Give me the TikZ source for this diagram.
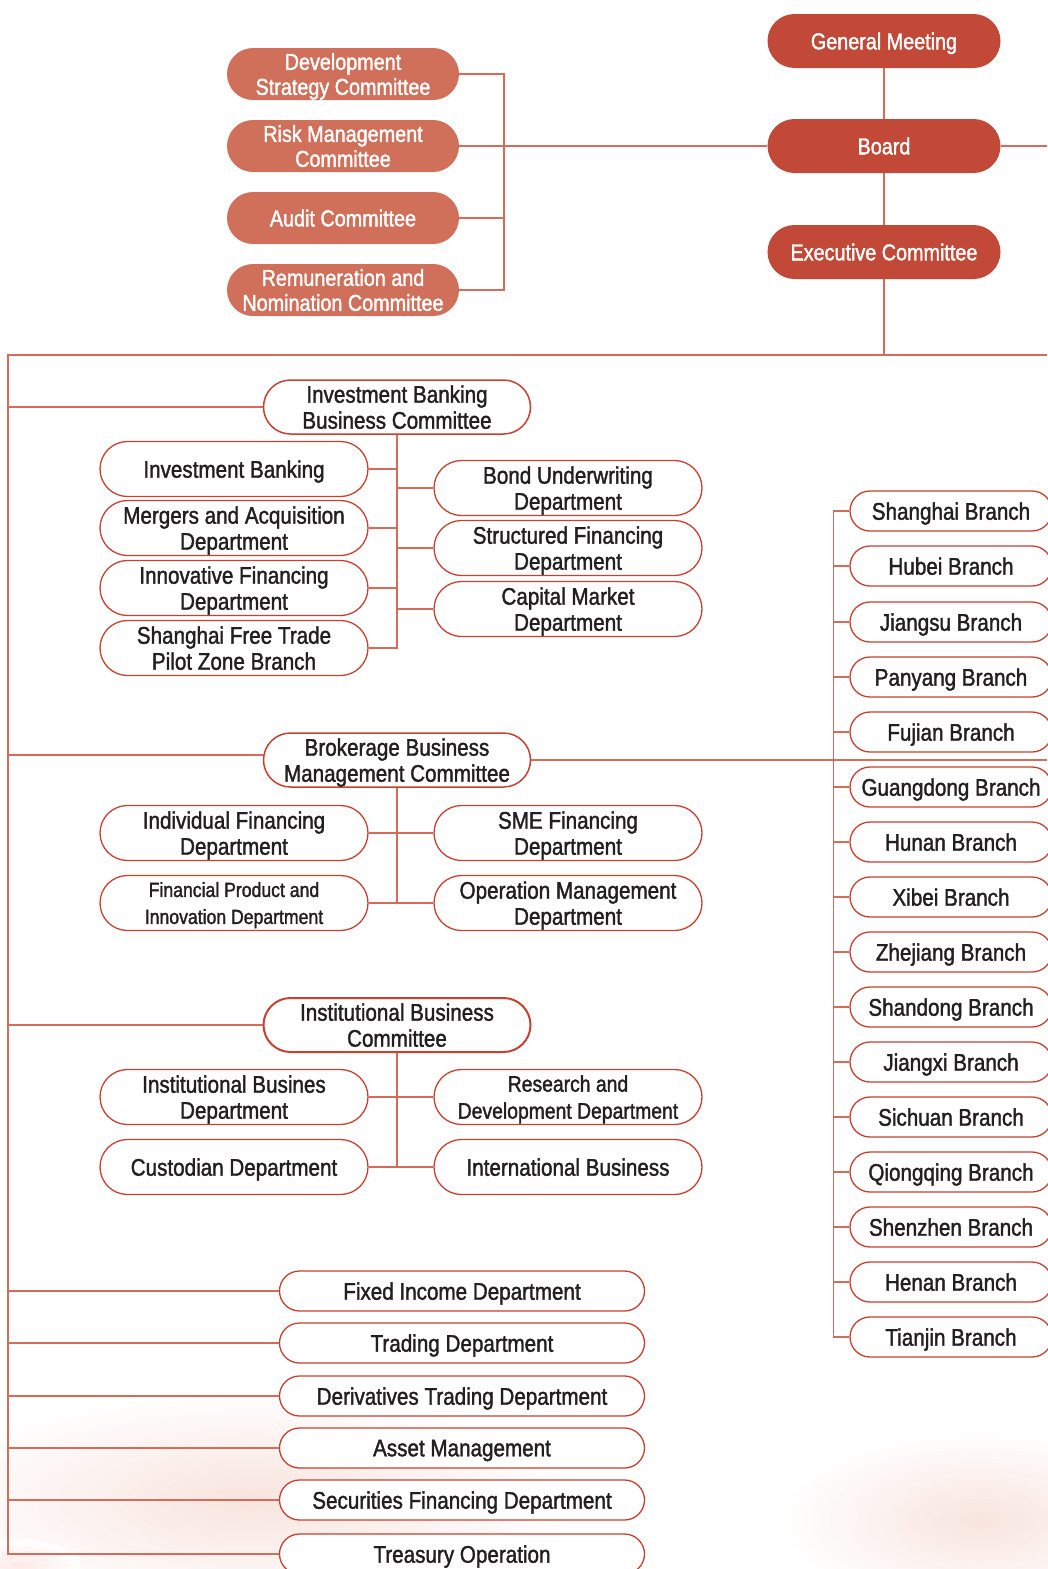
\documentclass[tikz,border=0pt]{standalone}
\usepackage{fontspec}
\setmainfont[FakeStretch=0.86,FakeBold=1.5]{Liberation Sans}
\usetikzlibrary{shapes.misc}
\definecolor{lightfill}{RGB}{208,112,90}
\definecolor{darkfill}{RGB}{194,72,56}
\definecolor{boxline}{RGB}{200,64,48}
\definecolor{connline}{RGB}{212,108,92}
\definecolor{txt}{RGB}{35,31,32}
\definecolor{wash}{RGB}{248,228,222}
\tikzset{
  pill/.style={rounded rectangle, inner sep=0pt, align=center, text depth=0pt, font=\fontsize{24}{26}\selectfont},
  topbox/.style={pill, fill=lightfill, text=white, minimum width=232pt, minimum height=52pt, font=\fontsize{23}{25}\selectfont},
  govbox/.style={pill, fill=darkfill, text=white, minimum width=233pt, minimum height=54pt, font=\fontsize{23}{25}\selectfont},
  combox/.style={pill, draw=boxline, line width=1.5pt, fill=white, text=txt, minimum width=267pt, minimum height=54pt},
  deptbox/.style={pill, draw=boxline, line width=1.3pt, fill=white, text=txt, minimum width=268pt, minimum height=55pt},
  lowbox/.style={pill, draw=boxline, line width=1.3pt, fill=white, text=txt, minimum width=365pt, minimum height=40pt},
  brbox/.style={pill, draw=boxline, line width=1.3pt, fill=white, text=txt, minimum width=202pt, minimum height=40pt},
  small/.style={font=\fontsize{20.5}{27}\selectfont},
  conn/.style={draw=connline, line width=1.6pt}
}
\begin{document}
\begin{tikzpicture}[x=1pt,y=-1pt]
\useasboundingbox (0,0) rectangle (1047,1569);
% faint watercolor wash at bottom
\shade[inner color=wash, outer color=white] (250,1500) ellipse (330pt and 110pt);
\shade[inner color=wash, outer color=white] (980,1520) ellipse (200pt and 90pt);
\shade[inner color=wash!80!red!30, outer color=white] (20,1565) ellipse (60pt and 25pt);

% governance
\node[govbox] (gm) at (884,41) {General Meeting};
\node[govbox] (board) at (884,146) {Board};
\node[govbox] (exec) at (884,252) {Executive Committee};

% board committees
\node[topbox] (dsc) at (343,74) {Development\\Strategy Committee};
\node[topbox] (rmc) at (343,146) {Risk Management\\Committee};
\node[topbox] (aud) at (343,218) {Audit Committee};
\node[topbox] (rnc) at (343,290) {Remuneration and\\Nomination Committee};

\coordinate (trunk) at (8,355);
\coordinate (tmid) at (884,355);
\coordinate (redge) at (1047,355);

% Investment banking
\node[combox] (ibc) at (397,407) {Investment Banking\\Business Committee};
\node[deptbox] (ib) at (234,469) {Investment Banking};
\node[deptbox] (ma) at (234,528) {Mergers and Acquisition\\Department};
\node[deptbox] (inf) at (234,588) {Innovative Financing\\Department};
\node[deptbox] (sft) at (234,648) {Shanghai Free Trade\\Pilot Zone Branch};
\node[deptbox] (bond) at (568,488) {Bond Underwriting\\Department};
\node[deptbox] (sfd) at (568,548) {Structured Financing\\Department};
\node[deptbox] (cmd) at (568,609) {Capital Market\\Department};

% Brokerage
\node[combox] (bro) at (397,760) {Brokerage Business\\Management Committee};
\node[deptbox] (ifd) at (234,833) {Individual Financing\\Department};
\node[deptbox, small] (fpi) at (234,903) {Financial Product and\\Innovation Department};
\node[deptbox] (sme) at (568,833) {SME Financing\\Department};
\node[deptbox] (omd) at (568,903) {Operation Management\\Department};

% Institutional
\node[combox, line width=2pt] (ibcom) at (397,1025) {Institutional Business\\Committee};
\node[deptbox] (ibd) at (234,1097) {Institutional Busines\\Department};
\node[deptbox] (cus) at (234,1167) {Custodian Department};
\node[deptbox, font=\fontsize{22.5}{27}\selectfont] (rdd) at (568,1097) {Research and\\Development Department};
\node[deptbox] (intl) at (568,1167) {International Business};

% lower departments
\node[lowbox] (fid) at (462,1291) {Fixed Income Department};
\node[lowbox] (trd) at (462,1343) {Trading Department};
\node[lowbox] (dtd) at (462,1396) {Derivatives Trading Department};
\node[lowbox] (asm) at (462,1448) {Asset Management};
\node[lowbox] (sfin) at (462,1500) {Securities Financing Department};
\node[lowbox] (tro) at (462,1554) {Treasury Operation};

% branches
\foreach \nm/\lab/\yy in {b1/Shanghai Branch/511, b2/Hubei Branch/566, b3/Jiangsu Branch/622, b4/Panyang Branch/677,
  b5/Fujian Branch/732, b6/Guangdong Branch/787, b7/Hunan Branch/842, b8/Xibei Branch/897,
  b9/Zhejiang Branch/952, b10/Shandong Branch/1007, b11/Jiangxi Branch/1062, b12/Sichuan Branch/1117,
  b13/Qiongqing Branch/1172, b14/Shenzhen Branch/1227, b15/Henan Branch/1282, b16/Tianjin Branch/1337}
  {\node[brbox] (\nm) at (951,\yy) {\lab};}

% connectors: governance
\draw[conn] (gm.south) -- (board.north);
\draw[conn] (board.south) -- (exec.north);
\draw[conn] (board.east) -- (1047,146);
\draw[conn] (exec.south) -- (tmid);
\draw[conn] (redge) -- (trunk) -- (trunk |- tro.west) -- (tro.west);

% board committees bracket
\draw[conn] (dsc.east) -- ++(45,0) |- (rnc.east);
\draw[conn] (aud.east) -- ++(45,0);
\draw[conn] (rmc.east) -- (board.west);

% IB
\draw[conn] (trunk |- ibc.west) -- (ibc.west);
\draw[conn] (ibc.south) -- (ibc.south |- sft.east) -- (sft.east);
\foreach \n in {ib,ma,inf} {\draw[conn] (\n.east) -- (ibc.south |- \n.east);}
\foreach \n in {bond,sfd,cmd} {\draw[conn] (\n.west) -- (ibc.south |- \n.west);}

% Brokerage
\draw[conn] ([yshift=5pt]trunk |- bro.west) -- ([yshift=5pt]bro.west);
\draw[conn] (bro.east) -- (1047,760);
\draw[conn] (bro.south) -- (bro.south |- fpi.east);
\foreach \n in {ifd,fpi} {\draw[conn] (\n.east) -- (bro.south |- \n.east);}
\foreach \n in {sme,omd} {\draw[conn] (\n.west) -- (bro.south |- \n.west);}

% Institutional
\draw[conn] (trunk |- ibcom.west) -- (ibcom.west);
\draw[conn] (ibcom.south) -- (ibcom.south |- cus.east);
\foreach \n in {ibd,cus} {\draw[conn] (\n.east) -- (ibcom.south |- \n.east);}
\foreach \n in {rdd,intl} {\draw[conn] (\n.west) -- (ibcom.south |- \n.west);}

% lower departments
\foreach \n in {fid,trd,dtd,asm,sfin} {\draw[conn] (trunk |- \n.west) -- (\n.west);}

% branches
\draw[conn] (b1.west) -- ++(-16,0) |- (b16.west);
\foreach \n in {b2,b3,b4,b5,b6,b7,b8,b9,b10,b11,b12,b13,b14,b15} {\draw[conn] (\n.west) -- ++(-16,0);}
\end{tikzpicture}
\end{document}
